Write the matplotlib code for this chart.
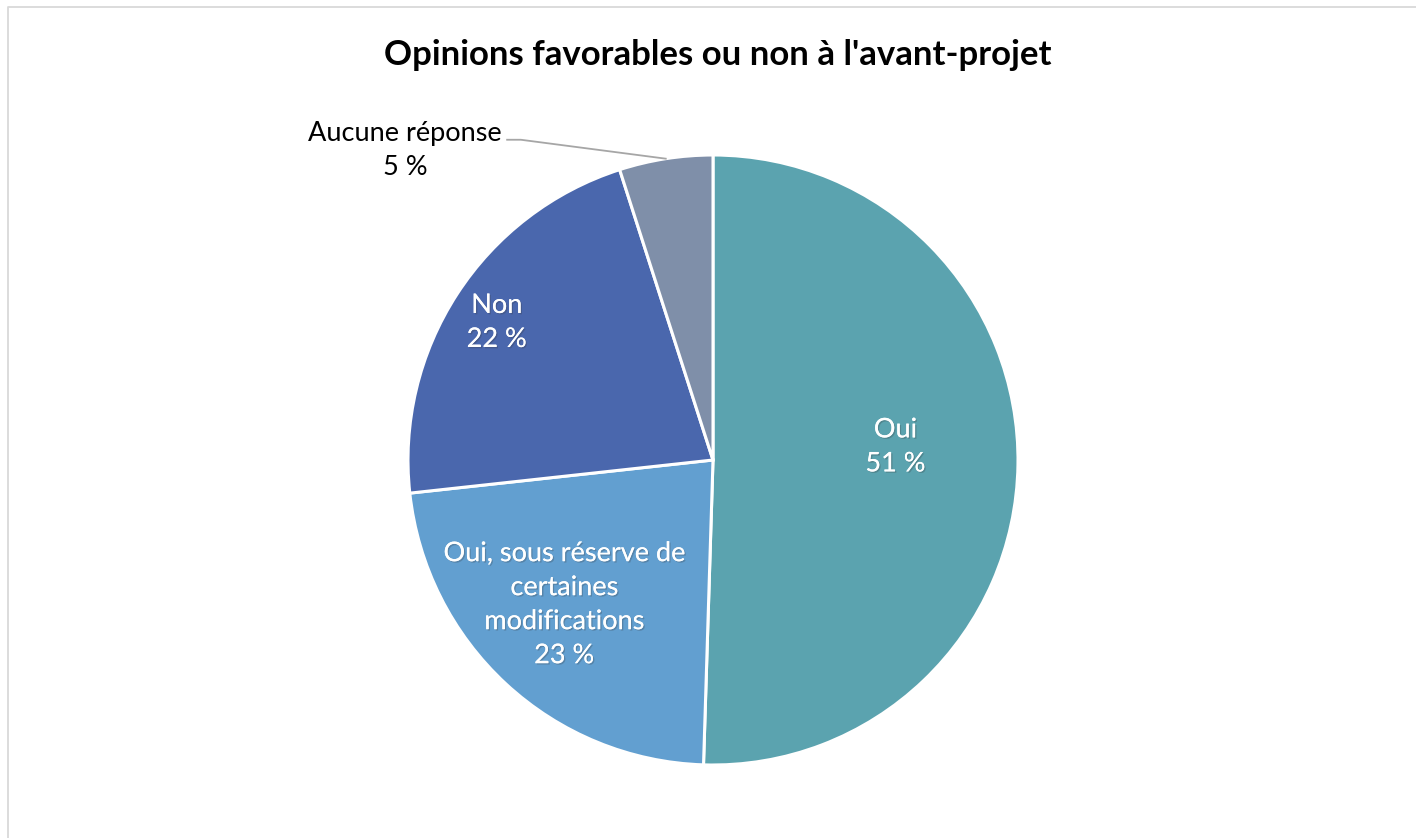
import numpy as np
import matplotlib.pyplot as plt
import matplotlib.patheffects as pe
from matplotlib.lines import Line2D

# data
categories = ["Oui", "Oui, sous réserve de\ncertaines\nmodifications", "Non", "Aucune réponse"]
values = [51, 23, 22, 5]
pct_labels = ["51 %", "23 %", "22 %", "5 %"]
colors = ["#5BA3AF", "#629FD0", "#4A67AD", "#7F8FA9"]

plt.rcParams['font.family'] = ['Lato', 'DejaVu Sans']

W, H = 1416, 838
fig = plt.figure(figsize=(W / 100, H / 100), dpi=100)
fig.patch.set_facecolor("white")

# pie centre and radius in pixels
cx, cy, R = 713, 838 - 460, 305
half = 1.5 * R
ax = fig.add_axes([(cx - half) / W, (cy - half) / H, 2 * half / W, 2 * half / H])

wedges, _ = ax.pie(values, colors=colors, startangle=90, counterclock=False,
                   wedgeprops=dict(edgecolor="white", linewidth=2.2))
ax.set_xlim(-1.5, 1.5)
ax.set_ylim(-1.5, 1.5)
ax.set_aspect("auto")
ax.axis("off")

shadow = [pe.withSimplePatchShadow(offset=(1, -1), shadow_rgbFace="#333333", alpha=0.25), pe.Normal()]

# label radius (fraction of radius) and angle shift for each slice, last one outside
label_r = [0.60, 0.68, 0.84, None]
label_shift = [5.0, -3.0, 0.5, 0.0]
for w, cat, pct, r, sh in zip(wedges, categories, pct_labels, label_r, label_shift):
    mid = np.deg2rad((w.theta1 + w.theta2) / 2)
    if r is not None:
        ang = mid + np.deg2rad(sh)
        ax.text(r * np.cos(ang), r * np.sin(ang), cat + "\n" + pct, ha="center", va="center",
                fontsize=19.5, color="white", linespacing=1.45, path_effects=shadow)
    else:
        # outside label with a leader line
        tx, ty = -1.01, 1.016
        ax.text(tx, ty, cat + "\n" + pct, ha="center", va="center",
                fontsize=19.5, color="black", linespacing=1.45, clip_on=False)
        ex, ey = np.cos(mid), np.sin(mid)
        ax.plot([-0.675, -0.63, ex], [1.050, 1.050, ey], color="#A6A6A6", lw=1.3,
                clip_on=False)

fig.text(718 / W, 1 - 55 / H, "Opinions favorables ou non à l'avant-projet",
         ha="center", va="center", fontsize=25, fontweight="bold", color="black")

# chart border (only top and left visible)
fig.add_artist(Line2D([7.5 / W, 7.5 / W, 1.0], [0.0, 1 - 7.5 / H, 1 - 7.5 / H],
                      transform=fig.transFigure, color="#D9D9D9", lw=1.3))

fig.savefig("out.png", dpi=100, facecolor="white")
